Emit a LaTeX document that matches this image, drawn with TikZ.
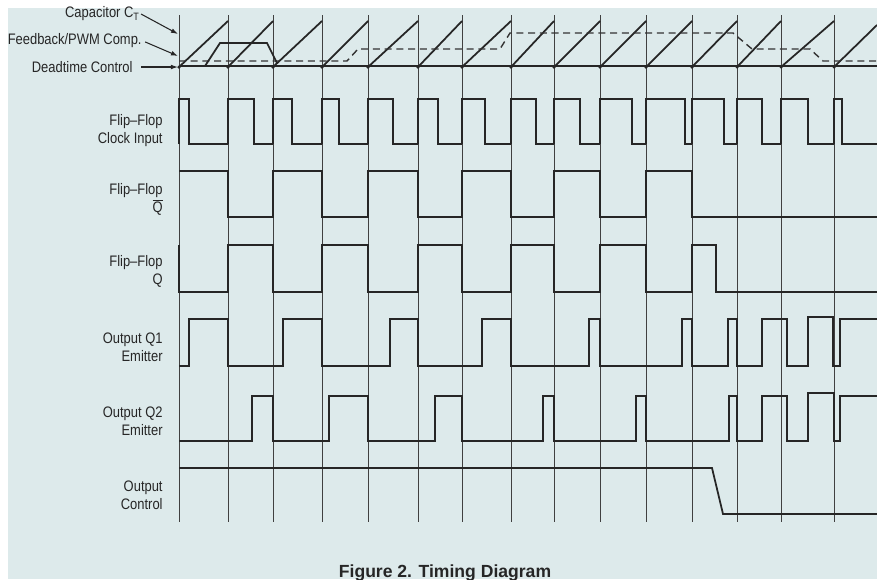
\documentclass[tikz,border=0pt]{standalone}
\usepackage{fontspec}
\setmainfont{Liberation Sans}
\newfontfamily\narrowsf[FakeStretch=0.85, Ligatures=TeX]{Liberation Sans}
\usetikzlibrary{arrows.meta}
\definecolor{panelbg}{RGB}{221,234,235}

\begin{document}
\begin{tikzpicture}[x=0.03cm, y=-0.03cm,
    sig/.style={line width=1.5pt, black!85},
    gridln/.style={line width=0.7pt, black!75},
    fbdash/.style={line width=1.2pt, black!80, dash pattern=on 6pt off 4pt},
    lbl/.style={font=\narrowsf\fontsize{13}{15.3}\selectfont, align=right, anchor=east, inner sep=1pt, text=black!85},
    ptr/.style={-{Latex[length=6pt,width=4pt]}, line width=0.9pt, black!85}
]
% Frame
\useasboundingbox (0,0) rectangle (877,579);
\fill[white] (0,0) rectangle (877,579);
\fill[panelbg] (8,8) rectangle (877,579);

% Time grid
\def\ticks{179,228,273,322,368,418,462,511,554,600,646,692,737,781,834}
\foreach \x in \ticks \draw[gridln] (\x,15) -- (\x,522);

% Capacitor ramp, deadtime and feedback levels
\foreach \a/\b/\c in {179/228/21, 228/273/21, 273/322/21, 322/368/21, 368/418/21,
    418/462/21, 462/511/21, 511/554/21, 554/600/21, 600/646/21, 646/692/21,
    692/737/21, 737/781/21, 781/834/21, 834/877/25}
  \draw[sig] (\a,67) -- (\b,\c);
\foreach \x in \ticks \fill[black!85] (\x,67) circle (1.5pt);
\draw[sig] (179,66) -- (877,66);
\draw[fbdash] (179,61) -- (347,61) -- (358,49) -- (500,49) -- (510,33) -- (733,33)
    -- (752,49) -- (810,49) -- (823,61) -- (877,61);
\draw[sig] (179,66) -- (205,66) -- (220,43) -- (267,43) -- (277,63);

% Top labels
\node[lbl] (capct) at (141,14) {Capacitor C\textsubscript{T}};
\node[lbl] (fbpwm) at (143,41) {Feedback/PWM Comp.};
\node[lbl] (dtc) at (134,67) {Deadtime Control};
\coordinate (capct-tip) at (178,34);
\coordinate (fbpwm-tip) at (178,56);
\coordinate (dtc-tip) at (178,67);
\draw[ptr] (capct.east) -- (capct-tip);
\draw[ptr, shorten <=2pt] (fbpwm.east) -- (fbpwm-tip);
\draw[ptr, shorten <=6pt] (dtc.east) -- (dtc-tip);

% Flip-Flop clock input
\foreach \a/\b/\c in {179/189/228, 228/254/273, 273/292/322, 322/339/368, 368/393/418,
    418/438/462, 462/485/511, 511/536/554, 554/580/600, 600/632/646, 646/685/692,
    692/724/737, 737/762/781, 781/808/834, 834/842/877}
  \draw[sig] (\a,144) |- (\b,99) |- (\c,144);

% Flip-Flop Q bar
\draw[sig] (179,171) -| (228,217) -| (273,171) -| (322,217) -| (368,171) -| (418,217)
    -| (462,171) -| (511,217) -| (554,171) -| (600,217) -| (646,171) -| (692,217) -- (877,217);

% Flip-Flop Q
\draw[sig] (179,245) -- (179,292) -| (228,245) -| (273,292) -| (322,245) -| (368,292)
    -| (418,245) -| (462,292) -| (511,245) -| (554,292) -| (600,245) -| (646,292)
    -| (692,245) -| (716,292) -- (877,292);

% Output Q1 emitter
\draw[sig] (179,366) -| (189,319) -| (228,366) -| (283,319) -| (322,366) -| (390,319)
    -| (418,366) -| (482,319) -| (511,366) -| (589,319) -| (600,366) -| (682,319)
    -| (692,366) -| (728,319) -| (737,366) -| (762,319) -| (787,366) -| (808,317)
    -| (833,366) -| (840,319) -- (877,319);

% Output Q2 emitter
\draw[sig] (179,441) -| (252,396) -| (273,441) -| (329,396) -| (368,441) -| (435,396)
    -| (462,441) -| (543,396) -| (554,441) -| (636,396) -| (646,441) -| (729,396)
    -| (737,441) -| (762,396) -| (787,441) -| (808,393) -| (834,441) -| (840,396) -- (877,396);

% Output control
\draw[sig] (179,468) -- (712,468) -- (723,514) -- (877,514);

% Row labels
\node[lbl] (clk) at (164,131) {Flip--Flop\\Clock Input};
\node[lbl] (qbar) at (164,199) {Flip--Flop\\$\overline{\mbox{Q}}$};
\node[lbl] (qout) at (164,271) {Flip--Flop\\Q};
\node[lbl] (qone) at (164,347) {Output Q1\\Emitter};
\node[lbl] (qtwo) at (164,421) {Output Q2\\Emitter};
\node[lbl] (octl) at (164,495) {Output\\Control};

% Caption
\node[font=\fontsize{15}{18}\selectfont\bfseries, anchor=base, text=black!85] (caption) at (445,577) {Figure 2. Timing Diagram};
\end{tikzpicture}
\end{document}
